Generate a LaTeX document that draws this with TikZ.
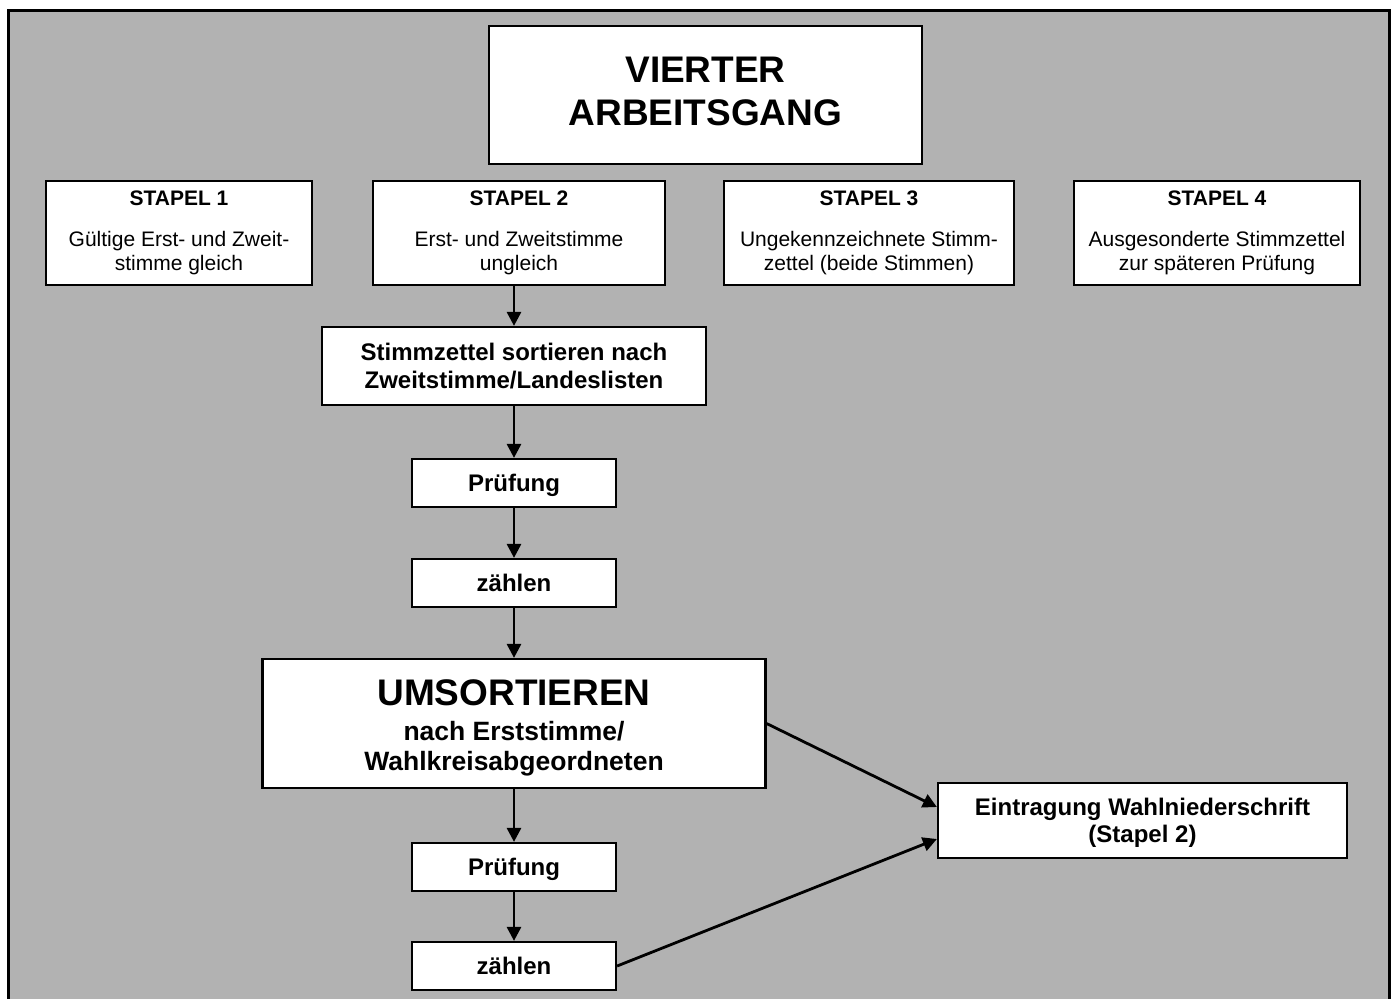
\documentclass[tikz,border=0pt]{standalone}
\usepackage{fontspec}
\setmainfont{Liberation Sans}
\usetikzlibrary{arrows.meta,positioning}
\definecolor{bggray}{gray}{0.7}
\tikzset{
  box/.style={shape=rectangle,draw,fill=white,line width=1.1pt,align=center,inner sep=0pt},
  stapelbox/.style={box,minimum width=#1,minimum height=52pt,font=\fontsize{10.5}{12}\selectfont},
  stepbox/.style={box,minimum width=102pt,minimum height=24pt,text height=8.8pt,text depth=0pt,font=\fontsize{12}{14}\selectfont\bfseries},
  flow/.style={line width=1.4pt,-{Triangle[length=7pt,width=7pt]}}
}
\begin{document}
\begin{tikzpicture}[x=0.5pt,y=-0.5pt]
\useasboundingbox (0,0) rectangle (1393,998);
\fill[bggray] (8,10) rectangle (1389,1010);
\draw[line width=1.5pt] (8,1010) -- (8,10) -- (1389,10) -- (1389,1010);

\node[box,minimum width=216.5pt,minimum height=69pt,font=\fontsize{18.5}{21.5}\selectfont\bfseries] (title) at (705.5,95){VIERTER\\ARBEITSGANG\rule[-4pt]{0pt}{0pt}};

\node[stapelbox=133pt] (s1) at (179,233){{\bfseries STAPEL 1}\\[8.5pt]Gültige Erst- und Zweit-\\stimme gleich};
\node[stapelbox=146pt] (s2) at (519,233){{\bfseries STAPEL 2}\\[8.5pt]Erst- und Zweitstimme\\ungleich};
\node[stapelbox=145pt] (s3) at (869,233){{\bfseries STAPEL 3}\\[8.5pt]Ungekennzeichnete Stimm-\\zettel (beide Stimmen)};
\node[stapelbox=143pt] (s4) at (1217,233){{\bfseries STAPEL 4}\\[8.5pt]Ausgesonderte Stimmzettel\\zur späteren Prüfung};

\node[box,minimum width=192pt,minimum height=39pt,font=\fontsize{12}{14}\selectfont\bfseries] (sort) at (514,366){Stimmzettel sortieren nach\\Zweitstimme/Landeslisten};
\node[stepbox] (p1) at (514,483){Prüfung};
\node[stepbox] (z1) at (514,583){zählen};
\node[box,minimum width=251.5pt,minimum height=64.5pt,font=\fontsize{13.25}{15}\selectfont\bfseries] (ums) at (514,723.5){\rule{0pt}{16.8pt}{\fontsize{18.5}{21}\selectfont UMSORTIEREN}\\[2.5pt]nach Erststimme/\\Wahlkreisabgeordneten};
\node[stepbox] (p2) at (514,867){Prüfung};
\node[stepbox] (z2) at (514,966){zählen};

\node[box,minimum width=204.5pt,minimum height=37.5pt,font=\fontsize{12}{13.5}\selectfont\bfseries] (ein) at (1142.5,820.5){\rule{0pt}{10.6pt}Eintragung Wahlniederschrift\\(Stapel 2)};

\draw[flow] (sort.north |- s2.south) -- (sort.north);
\draw[flow] (sort) -- (p1);
\draw[flow] (p1) -- (z1);
\draw[flow] (z1) -- (ums);
\draw[flow] (ums) -- (p2);
\draw[flow] (p2) -- (z2);
\draw[flow] (ums.east) -- ([yshift=6.75pt]ein.west);
\draw[flow] (z2.east) -- ([yshift=-9.25pt]ein.west);

\end{tikzpicture}
\end{document}
